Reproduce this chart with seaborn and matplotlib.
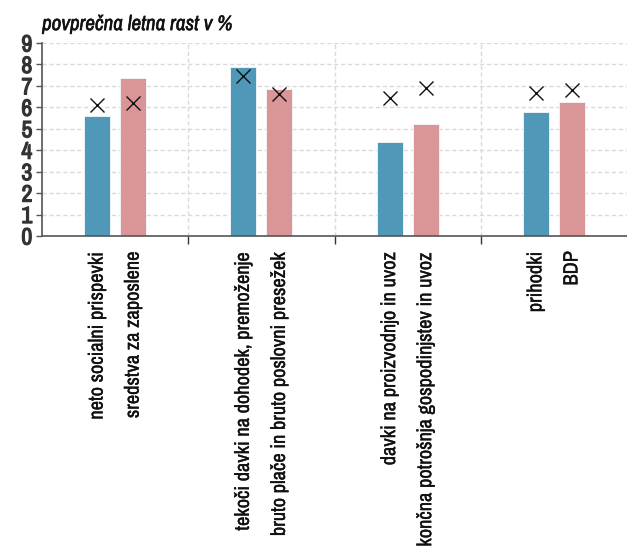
import matplotlib
matplotlib.use("Agg")
import matplotlib.pyplot as plt
from matplotlib import font_manager
import matplotlib.patheffects as pe
import numpy as np
import pandas as pd
import seaborn as sns

# Average annual growth, in %, for four pairs of tax bases / macro aggregates
groups = ["g1", "g2", "g3", "g4"]
revenue_labels = [
    "neto socialni prispevki",
    "tekoči davki na dohodek, premoženje",
    "davki na proizvodnjo in uvoz",
    "prihodki",
]
base_labels = [
    "sredstva za zaposlene",
    "bruto plače in bruto poslovni presežek",
    "končna potrošnja gospodinjstev in uvoz",
    "BDP",
]
revenue_bar = [5.6, 7.9, 4.4, 5.8]
base_bar = [7.35, 6.85, 5.2, 6.25]
revenue_mark = [6.1, 7.45, 6.45, 6.65]
base_mark = [6.2, 6.6, 6.9, 6.8]
y_ticks = [0, 1, 2, 3, 4, 5, 6, 7, 8, 9]
title = "povprečna letna rast v %"

sns.set_theme(style="white")

# look for a narrow sans face; fall back to DejaVu Sans otherwise
narrow = [f for f in font_manager.fontManager.ttflist
          if ("Condensed" in f.name or "Narrow" in f.name
              or str(f.stretch) in ("semi-condensed", "condensed", "extra-condensed"))]
narrow_names = sorted({f.name for f in narrow})
if narrow_names:
    family = narrow_names[0]
    lab_size, tick_size, title_size = 14.7, 17, 15.2
else:
    family = "DejaVu Sans"
    lab_size, tick_size, title_size = 10.8, 13, 13
plt.rcParams["font.family"] = [family, "DejaVu Sans"]
plt.rcParams["font.stretch"] = "condensed"

bars = pd.DataFrame({
    "group": groups * 2,
    "series": ["prihodek"] * 4 + ["osnova"] * 4,
    "value": revenue_bar + base_bar,
})
marks = pd.DataFrame({
    "group": groups * 2,
    "series": ["prihodek"] * 4 + ["osnova"] * 4,
    "value": revenue_mark + base_mark,
})

fig = plt.figure(figsize=(6.27, 5.47), dpi=100)
ax = fig.add_axes([0.067, 0.5686, 0.933, 0.3528])

width = 0.493
sns.barplot(data=bars, x="group", y="value", hue="series",
            palette=["#4f98b8", "#da9696"], saturation=1, width=width, gap=0.28,
            edgecolor="#f4f8fa", linewidth=0.6, legend=False, ax=ax, zorder=2)
sns.pointplot(data=marks, x="group", y="value", hue="series",
              palette=["#111111", "#111111"], dodge=width / 2, markers="x",
              linestyle="none", markersize=10, markeredgewidth=1.0,
              errorbar=None, legend=False, ax=ax, zorder=3)

ax.set_xlim(-0.5, 3.5)
ax.set_ylim(0, 9)
ax.set_yticks(y_ticks)
ax.set_yticklabels([str(t) for t in y_ticks], fontsize=tick_size,
                   fontweight="bold", color="#333333")
for t in ax.get_yticklabels():
    t.set_path_effects([pe.withStroke(linewidth=0.9, foreground="#333333")])
ax.tick_params(axis="y", length=4, width=1, color="#555555", pad=3, left=True)

# group separators as major ticks, bar labels as minor ticks
off = width / 4
ax.set_xticks([0.5, 1.5, 2.5])
ax.set_xticklabels([])
ax.tick_params(axis="x", which="major", direction="out", length=6, width=1,
               color="#333333", bottom=True)
minor_pos = []
minor_lab = []
for i in range(len(groups)):
    minor_pos += [i - off, i + off]
    minor_lab += [revenue_labels[i], base_labels[i]]
ax.set_xticks(minor_pos, minor=True)
ax.set_xticklabels(minor_lab, minor=True, rotation=90, fontsize=lab_size,
                   color="#111111", va="top", ha="center")
for t in ax.get_xticklabels(minor=True):
    t.set_path_effects([pe.withStroke(linewidth=0.25, foreground="#111111")])
ax.tick_params(axis="x", which="minor", length=0, pad=11)

ax.set_xlabel("")
ax.set_ylabel("")
ax.grid(axis="y", color="#dadada", linestyle=(0, (3, 2)), linewidth=1)
ax.grid(axis="x", which="major", color="#dadada", linestyle=(0, (3, 2)),
        linewidth=1)
ax.set_axisbelow(True)
for s in ["top", "right"]:
    ax.spines[s].set_visible(False)
for s in ["left", "bottom"]:
    ax.spines[s].set_color("#555555")
    ax.spines[s].set_linewidth(1.2)

fig.text(0.067, 0.955, title, fontsize=title_size, style="italic",
         color="#111111", ha="left", va="center",
         path_effects=[pe.withStroke(linewidth=0.35, foreground="#111111")])

fig.savefig("out.png", dpi=100)
